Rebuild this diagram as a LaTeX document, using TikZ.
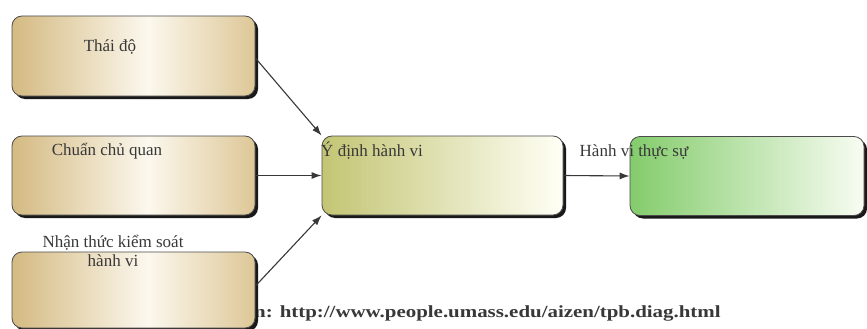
\documentclass[tikz,border=0pt]{standalone}
\usepackage{fontspec}
\setmainfont{Liberation Serif}
\newfontfamily\srcfont[FakeStretch=1.23]{Liberation Serif}
\usetikzlibrary{arrows.meta,shadows}

\definecolor{tanA}{HTML}{D4BA82}
\definecolor{tanW}{HTML}{FCF8EE}
\definecolor{tanB}{HTML}{DDC797}
\definecolor{oliveA}{HTML}{C3C574}
\definecolor{oliveW}{HTML}{FFFFF6}
\definecolor{greenA}{HTML}{84CC6C}
\definecolor{greenW}{HTML}{F8FCF2}
\definecolor{inkgray}{HTML}{383838}

% left-to-right fills of the boxes (bbox spans 25bp..75bp)
\pgfdeclarehorizontalshading{beigeshade}{100bp}{color(0bp)=(tanA); color(25bp)=(tanA); color(53bp)=(tanW); color(75bp)=(tanB); color(100bp)=(tanB)}
\pgfdeclarehorizontalshading{oliveshade}{100bp}{color(0bp)=(oliveA); color(25bp)=(oliveA); color(75bp)=(oliveW); color(100bp)=(oliveW)}
\pgfdeclarehorizontalshading{greenshade}{100bp}{color(0bp)=(greenA); color(25bp)=(greenA); color(75bp)=(greenW); color(100bp)=(greenW)}

\tikzset{
  box/.style={rectangle, rounded corners=10pt, draw=black!70, line width=0.8pt,
    inner sep=0pt,
    drop shadow={shadow xshift=3pt, shadow yshift=-3pt, fill=black!90, opacity=1}},
  beigebox/.style={box, shading=beigeshade},
  olivebox/.style={box, shading=oliveshade},
  greenbox/.style={box, shading=greenshade},
  lbl/.style={text=inkgray, font=\fontsize{17}{19}\selectfont, inner sep=0pt, align=center},
  link/.style={draw=inkgray, line width=1.1pt, -{Latex[length=10pt,width=7pt]}},
}

\begin{document}
\begin{tikzpicture}[x=1pt, y=-1pt]
  \clip (0,0) rectangle (867,329);
  \fill[white] (0,0) rectangle (867,329);

  % source line (partly hidden under the lower box)
  \node[anchor=west, inner sep=0pt, text=inkgray, font=\srcfont\bfseries\fontsize{17}{19}\selectfont]
    (src) at (254,313) {n: http://www.people.umass.edu/aizen/tpb.diag.html};

  % boxes
  \node[beigebox, minimum width=243pt, minimum height=80pt] (att) at (133.5,56) {};
  \node[beigebox, minimum width=243pt, minimum height=79pt] (norm) at (133.5,175.5) {};
  \node[beigebox, minimum width=243pt, minimum height=76pt] (ctrl) at (133.5,290) {};
  \node[olivebox, minimum width=241pt, minimum height=79pt] (intent) at (442.5,175.5) {};
  \node[greenbox, minimum width=234pt, minimum height=79pt] (act) at (747,176) {};

  % labels
  \node[lbl] (tatt) at (110,47) {Thái độ};
  \node[lbl] (tnorm) at (107,151) {Chuẩn chủ quan};
  \node[lbl] (tctrl) at (113,251) {Nhận thức kiểm soát\\hành vi};
  \node[lbl] (tint) at (372,151) {Ý định hành vi};
  \node[lbl] (tact) at (634,152) {Hành vi thực sự};

  % connectors
  \draw[link] ([yshift=-2pt]att.east) -- (intent.north west);
  \draw[link] (norm.east) -- (intent.west);
  \draw[link] ([yshift=4pt]ctrl.east) -- (intent.south west);
  \draw[link] (intent.east) -- (act.west);
\end{tikzpicture}
\end{document}
